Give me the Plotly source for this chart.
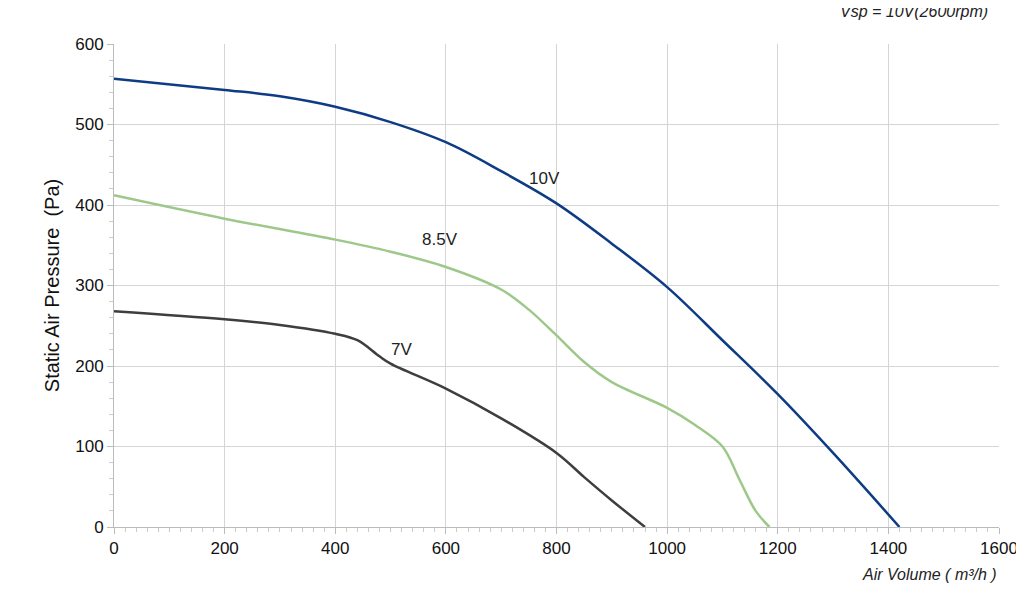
import plotly.graph_objects as go

x10 = [0, 200, 300, 400, 500, 600, 700, 800, 900, 1000, 1100, 1200, 1300, 1420]
y10 = [557, 543, 535, 522, 503, 478, 442, 402, 352, 298, 232, 165, 92, 0]
x85 = [0, 200, 400, 500, 600, 700, 750, 800, 850, 900, 1000, 1050, 1100, 1130, 1160, 1185]
y85 = [412, 383, 357, 342, 323, 295, 270, 238, 205, 180, 148, 127, 100, 60, 20, 0]
x7 = [0, 200, 300, 400, 440, 480, 500, 600, 700, 800, 850, 900, 960]
y7 = [268, 258, 251, 240, 232, 212, 203, 172, 135, 92, 62, 33, 0]

labels = [("10V", 778, 433), ("8.5V", 590, 357), ("7V", 520, 220)]

fig = go.Figure()
for xs, ys, c in [(x10, y10, "#0d3c84"), (x85, y85, "#9dc88a"), (x7, y7, "#3e3e3e")]:
    fig.add_trace(go.Scatter(x=xs, y=ys, mode="lines", line=dict(color=c, width=2.5, shape="spline", smoothing=1), showlegend=False))
for t, x, y in labels:
    fig.add_annotation(x=x, y=y, text=t, showarrow=False, font=dict(size=17, color="#222"))
fig.add_annotation(xref="paper", yref="paper", x=0.99, y=1.09, xanchor="right", text="<i>Vsp = 10V(2600rpm)</i>", showarrow=False, font=dict(size=16, color="#222"))
fig.add_annotation(xref="paper", yref="paper", x=1.0, y=-0.12, xanchor="right", text="<i>Air Volume ( m³/h )</i>", showarrow=False, font=dict(size=16, color="#222"))

fig.update_layout(
    width=1024, height=610, plot_bgcolor="white", paper_bgcolor="white",
    margin=dict(l=106, r=33, t=36, b=91),
    font=dict(family="Liberation Sans, Arial", size=17, color="#111"),
    xaxis=dict(range=[0, 1600], dtick=200, showgrid=True, gridcolor="#d5d5d5", zeroline=False,
               ticks="outside", ticklen=6, tickcolor="#bbb", showline=True, linecolor="#bbb",
               minor=dict(dtick=20, ticks="outside", ticklen=4, tickcolor="#ccc", showgrid=False)),
    yaxis=dict(range=[0, 600], dtick=100, showgrid=True, gridcolor="#d5d5d5", zeroline=False,
               ticks="outside", ticklen=6, tickcolor="#bbb", showline=True, linecolor="#bbb",
               title=dict(text="Static Air Pressure  (Pa)", font=dict(size=20), standoff=10),
               minor=dict(dtick=20, ticks="outside", ticklen=4, tickcolor="#ccc", showgrid=False)),
)
fig.write_html("out.html")
